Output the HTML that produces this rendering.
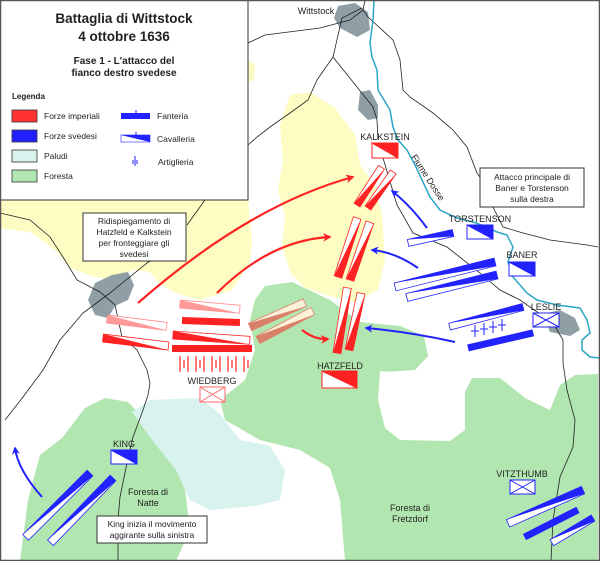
<!DOCTYPE html>
<html><head><meta charset="utf-8"><style>
html,body{margin:0;padding:0;background:#fff}
svg{display:block}
text{font-family:"Liberation Sans",sans-serif;fill:#222}
</style></head><body>
<svg width="600" height="561" viewBox="0 0 600 561" xmlns="http://www.w3.org/2000/svg">
<defs>
<marker id="ar" viewBox="0 0 10 10" refX="8" refY="5" markerWidth="4" markerHeight="4" orient="auto"><path d="M0,0L10,5L0,10L3,5z" fill="#f22"/></marker>
<marker id="ab" viewBox="0 0 10 10" refX="8" refY="5" markerWidth="4" markerHeight="4" orient="auto"><path d="M0,0L10,5L0,10L3,5z" fill="#22f"/></marker>
</defs>
<rect width="600" height="561" fill="#fff"/>
<!-- yellow -->
<path d="M0,200 L248,200 L252,240 L250,262 L232,290 L200,300 L178,294 L160,284 L150,272 L132,270 L112,280 L92,276 L70,268 L55,250 L30,232 L0,228 Z" fill="#fdfcc2"/>
<path d="M248,60 L255,65 L254,80 L248,82 Z" fill="#fdfcc2"/>
<path d="M290,95 L310,92 L335,108 L355,135 L360,165 L375,185 L382,215 L385,260 L378,290 L355,302 L330,296 L305,288 L290,272 L282,245 L285,215 L278,190 L283,160 L280,125 Z" fill="#fdfcc2"/>
<!-- green -->
<path d="M255,300 L265,286 L292,282 L330,300 L360,322 L400,326 L424,336 L428,356 L415,370 L385,372 L470,378 L500,378 L525,398 L550,410 L560,385 L575,375 L598,374 L598,561 L345,561 L340,500 L330,468 L300,450 L260,440 L225,420 L220,400 L245,380 L255,350 L250,320 Z" fill="#b2e6b0"/>
<path d="M380,371 L378,400 L385,428 L400,440 L450,441 L465,430 L465,392 L472,378 Z" fill="#fff"/>
<path d="M20,561 L28,500 L40,455 L62,438 L85,408 L105,398 L128,402 L150,425 L170,455 L185,490 L190,530 L176,561 Z" fill="#b2e6b0"/>
<!-- marsh -->
<path d="M132,412 L150,400 L200,398 L220,414 L240,440 L270,446 L285,470 L280,500 L255,506 L210,510 L190,500 L176,470 L152,440 Z" fill="#d8f2ee"/>
<!-- swamps -->
<path d="M338,6 L355,3 L368,12 L370,30 L357,37 L340,28 L334,18 Z" fill="#909fa6"/>
<path d="M360,92 L370,90 L378,105 L378,118 L368,120 L358,110 Z" fill="#909fa6"/>
<path d="M95,283 L112,275 L128,272 L134,285 L128,300 L115,306 L108,318 L95,315 L88,300 Z" fill="#909fa6"/>
<path d="M543,314 L560,310 L575,318 L580,330 L570,336 L550,332 Z" fill="#909fa6"/>
<!-- roads -->
<g fill="none" stroke="#222" stroke-width="0.8">
<path d="M248,43 L265,35 L320,28 L350,20 L363,10 L365,0"/>
<path d="M362,8 L342,18 L333,57 L317,80 L308,100 L290,113 L270,127 L257,137 L248,145"/>
<path d="M205,200 L187,225"/>
<path d="M333,57 L357,87 L373,107 L377,120 L378,140 M383,158 L397,205 L413,233 L447,247 L480,273 L500,290 L520,300 L553,323 L563,340 L563,363 L567,390 L575,420 L573,447 L560,477 L553,520 L551,561"/>
<path d="M363,10 L368,17 L393,40 L400,60 L403,90 L410,97 L433,113 L453,130 L467,147 L477,173 L487,187 L493,207 L503,227 L523,233 L550,240 L587,245 L598,247"/>
<path d="M0,213 L30,220 L50,237 L63,257 L77,280 L100,292 L115,305 L122,337 L137,350 L147,370 L150,383 L148,395 L143,410 L133,437 L127,463 L120,497 L118,520 L118,561"/>
<path d="M83,313 L110,293 L147,263 L150,261"/>
<path d="M83,313 L60,340 L43,370 L23,397 L5,420"/>
</g>
<!-- river -->
<path d="M374,0 L373,20 L370,43 L372,57 L377,70 L378,90 L390,110 L393,127 L398,140 L407,150 L415,165 L430,197 L440,210 L457,218 L473,222 L487,227 L497,232 L507,235 L513,247 L508,262 L513,277 L527,293 L537,300 L557,305 L580,308 L587,320 L590,333 L582,340 L582,350 L590,357 L600,358" fill="none" stroke="#2aa6c6" stroke-width="1.5"/>
<text x="0" y="0" font-size="9" transform="translate(411,157) rotate(57)">Fiume Dosse</text>
<text x="316" y="14" font-size="9" text-anchor="middle">Wittstock</text>

<!-- red arrows -->
<g fill="none" stroke="#f22" stroke-width="2.2">
<path d="M138,303 Q250,205 353,177" marker-end="url(#ar)"/>
<path d="M217,293 Q270,240 330,237" marker-end="url(#ar)"/>
<path d="M302,330 Q315,340 328,339" marker-end="url(#ar)"/>
</g>
<!-- blue arrows -->
<g fill="none" stroke="#22f" stroke-width="2">
<path d="M427,228 Q410,205 392,191" marker-end="url(#ab)"/>
<path d="M418,268 Q395,252 372,250" marker-end="url(#ab)"/>
<path d="M455,342 Q410,332 366,328" marker-end="url(#ab)"/>
<path d="M42,497 Q18,470 15,448" marker-end="url(#ab)"/>
</g>

<!-- red cavalry -->
<g stroke="#f22" stroke-width="0.8">
<g transform="translate(357,205) rotate(-57)"><rect x="0" y="-3.5" width="45" height="7" fill="#fff"/><polygon points="0,-3.5 0,3.5 45,3.5" fill="#f22" stroke="none"/></g>
<g transform="translate(368,208) rotate(-55)"><rect x="0" y="-3.5" width="44" height="7" fill="#fff"/><polygon points="0,-3.5 0,3.5 44,3.5" fill="#f22" stroke="none"/></g>
<g transform="translate(338,277) rotate(-72)"><rect x="0" y="-4" width="62" height="8" fill="#fff"/><polygon points="0,-4 0,4 62,4" fill="#f22" stroke="none"/></g>
<g transform="translate(350,280) rotate(-71)"><rect x="0" y="-4" width="61" height="8" fill="#fff"/><polygon points="0,-4 0,4 61,4" fill="#f22" stroke="none"/></g>
<g transform="translate(337,353) rotate(-81)"><rect x="0" y="-4" width="66" height="8" fill="#fff"/><polygon points="0,-4 0,4 66,4" fill="#f22" stroke="none"/></g>
<g transform="translate(349,350) rotate(-78)"><rect x="0" y="-4" width="58" height="8" fill="#fff"/><polygon points="0,-4 0,4 58,4" fill="#f22" stroke="none"/></g>
</g>
<g stroke="#e0806a" stroke-width="0.8">
<g transform="translate(250,327) rotate(-24)"><rect x="0" y="-4" width="60" height="8" fill="#fbf0d8"/><polygon points="0,-4 0,4 60,4" fill="#d9806a" stroke="none"/></g>
<g transform="translate(258,340) rotate(-28)"><rect x="0" y="-4" width="62" height="8" fill="#fbf0d8"/><polygon points="0,-4 0,4 62,4" fill="#d9806a" stroke="none"/></g>
</g>
<g stroke="#f88" stroke-width="0.8">
<g transform="translate(180,304) rotate(5)"><rect x="0" y="-4" width="60" height="8" fill="#fff"/><polygon points="0,-4 0,4 60,4" fill="#f99" stroke="none"/></g>
<g transform="translate(107,319) rotate(7)"><rect x="0" y="-4" width="60" height="8" fill="#fff"/><polygon points="0,-4 0,4 60,4" fill="#f99" stroke="none"/></g>
</g>
<g stroke="#f22" stroke-width="0.8">
<g transform="translate(173,335) rotate(4)"><rect x="0" y="-4" width="77" height="8" fill="#fff"/><polygon points="0,-4 0,4 77,4" fill="#f22" stroke="none"/></g>
<g transform="translate(103,338) rotate(7)"><rect x="0" y="-4" width="66" height="8" fill="#fff"/><polygon points="0,-4 0,4 66,4" fill="#f22" stroke="none"/></g>
</g>
<g fill="#f22">
<rect x="182" y="318" width="58" height="7" transform="rotate(2 211 321)"/>
<rect x="172" y="345" width="80" height="7"/>
<g stroke="#f22" stroke-width="1.2">
<path d="M180,356v16M184,360v8M188,356v16M196,356v16M200,360v8M204,356v16M212,356v16M216,360v8M220,356v16M228,356v16M232,360v8M236,356v16M244,356v16M248,360v8"/>
</g>
</g>
<!-- red flags -->
<g stroke="#f22" stroke-width="1">
<rect x="372" y="143" width="26" height="15" fill="#fff"/><polygon points="372,143 398,143 398,158" fill="#f22"/>
<rect x="322" y="371" width="35" height="17" fill="#fff"/><polygon points="322,371 357,371 357,388" fill="#f22"/>
<g stroke="#f66"><rect x="200" y="387" width="25" height="15" fill="#fff"/><path d="M200,387L225,402M225,387L200,402"/></g>
</g>
<text x="385" y="140" font-size="9" text-anchor="middle">KALKSTEIN</text>
<text x="340" y="369" font-size="9" text-anchor="middle">HATZFELD</text>
<text x="212" y="384" font-size="9" text-anchor="middle">WIEDBERG</text>

<!-- blue units -->
<g stroke="#22f" stroke-width="0.8">
<g transform="translate(453,233) rotate(167.5)"><rect x="0" y="-3.5" width="46" height="7" fill="#fff"/><polygon points="0,-3.5 0,3.5 46,3.5" fill="#22f" stroke="none"/></g>
<g transform="translate(495,262) rotate(166)"><rect x="0" y="-4" width="103" height="8" fill="#fff"/><polygon points="0,-4 0,4 103,4" fill="#22f" stroke="none"/></g>
<g transform="translate(497,275) rotate(166)"><rect x="0" y="-4" width="93" height="8" fill="#fff"/><polygon points="0,-4 0,4 93,4" fill="#22f" stroke="none"/></g>
<g transform="translate(523,307) rotate(165)"><rect x="0" y="-3.5" width="76" height="7" fill="#fff"/><polygon points="0,-3.5 0,3.5 76,3.5" fill="#22f" stroke="none"/></g>
<g transform="translate(90,473) rotate(135)"><rect x="0" y="-4" width="91" height="8" fill="#fff"/><polygon points="0,-4 0,4 91,4" fill="#22f" stroke="none"/></g>
<g transform="translate(113,478) rotate(134)"><rect x="0" y="-4" width="90" height="8" fill="#fff"/><polygon points="0,-4 0,4 90,4" fill="#22f" stroke="none"/></g>
<g transform="translate(583,490) rotate(156)"><rect x="0" y="-4" width="82" height="8" fill="#fff"/><polygon points="0,-4 0,4 82,4" fill="#22f" stroke="none"/></g>
<g transform="translate(593,518) rotate(149)"><rect x="0" y="-3.5" width="48" height="7" fill="#fff"/><polygon points="0,-3.5 0,3.5 48,3.5" fill="#22f" stroke="none"/></g>
</g>
<g fill="#22f">
<rect x="467" y="337" width="67" height="7" transform="rotate(-13 500 340)"/>
<rect x="521" y="520" width="60" height="7" transform="rotate(-27 551 523)"/>
<path d="M475,325v12M471,331h8M484,323v12M480,329h8M493,321v12M489,327h8M502,319v12M498,325h8" stroke="#22f" stroke-width="1"/>
</g>
<g stroke="#22f" stroke-width="1">
<rect x="467" y="225" width="26" height="14" fill="#fff"/><polygon points="467,225 493,225 493,239" fill="#22f"/>
<rect x="509" y="262" width="26" height="14" fill="#fff"/><polygon points="509,262 535,262 535,276" fill="#22f"/>
<rect x="111" y="450" width="26" height="14" fill="#fff"/><polygon points="111,450 137,450 137,464" fill="#22f"/>
<rect x="533" y="313" width="26" height="14" fill="#fff"/><path d="M533,313L559,327M559,313L533,327"/>
<rect x="510" y="480" width="25" height="14" fill="#fff"/><path d="M510,480L535,494M535,480L510,494"/>
</g>
<text x="480" y="222" font-size="9" text-anchor="middle">TORSTENSON</text>
<text x="522" y="258" font-size="9" text-anchor="middle">BANER</text>
<text x="546" y="310" font-size="9" text-anchor="middle">LESLIE</text>
<text x="124" y="447" font-size="9" text-anchor="middle">KING</text>
<text x="522" y="477" font-size="9" text-anchor="middle">VITZTHUMB</text>

<text x="148" y="495" font-size="9" text-anchor="middle">Foresta di</text>
<text x="148" y="506" font-size="9" text-anchor="middle">Natte</text>
<text x="410" y="511" font-size="9" text-anchor="middle">Foresta di</text>
<text x="410" y="522" font-size="9" text-anchor="middle">Fretzdorf</text>

<!-- text boxes -->
<g fill="#fff" stroke="#333" stroke-width="1">
<rect x="83" y="213" width="103" height="48"/>
<rect x="480" y="168" width="104" height="39"/>
<rect x="97" y="516" width="110" height="27"/>
</g>
<g font-size="8.5" text-anchor="middle">
<text x="134" y="224">Ridispiegamento di</text>
<text x="134" y="235">Hatzfeld e Kalkstein</text>
<text x="134" y="246">per fronteggiare gli</text>
<text x="134" y="257">svedesi</text>
<text x="532" y="180">Attacco principale di</text>
<text x="532" y="191">Baner e Torstenson</text>
<text x="532" y="202">sulla destra</text>
<text x="152" y="527">King inizia il movimento</text>
<text x="152" y="538">aggirante sulla sinistra</text>
</g>

<!-- legend -->
<rect x="0" y="0" width="248" height="200" fill="#fff" stroke="#333" stroke-width="1"/>
<text x="124" y="23" font-size="13.5" font-weight="bold" text-anchor="middle">Battaglia di Wittstock</text>
<text x="124" y="41" font-size="13.5" font-weight="bold" text-anchor="middle">4 ottobre 1636</text>
<text x="124" y="64" font-size="10" font-weight="bold" text-anchor="middle">Fase 1 - L'attacco del</text>
<text x="124" y="76" font-size="10" font-weight="bold" text-anchor="middle">fianco destro svedese</text>
<text x="12" y="99" font-size="8" font-weight="bold">Legenda</text>
<g stroke="#333" stroke-width="0.8">
<rect x="12" y="110" width="25" height="12" fill="#f33"/>
<rect x="12" y="130" width="25" height="12" fill="#22f"/>
<rect x="12" y="150" width="25" height="12" fill="#d8f2ee"/>
<rect x="12" y="170" width="25" height="12" fill="#b2e6b0"/>
</g>
<g font-size="8.5" fill="#333">
<text x="44" y="119">Forze imperiali</text>
<text x="44" y="139">Forze svedesi</text>
<text x="44" y="159">Paludi</text>
<text x="44" y="179">Foresta</text>
<text x="157" y="119">Fanteria</text>
<text x="157" y="142">Cavalleria</text>
<text x="158" y="165">Artiglieria</text>
</g>
<rect x="121" y="113" width="29" height="6" fill="#22f"/><path d="M136,110v3" stroke="#22f"/>
<rect x="121" y="135" width="29" height="7" fill="#fff" stroke="#22f" stroke-width="0.6"/><polygon points="121,135 150,135 150,142" fill="#22f"/><path d="M136,132v3" stroke="#22f"/>
<path d="M135,156v10M133,160v4M137,160v4" stroke="#22f" stroke-width="1"/>

<rect x="0.5" y="0.5" width="599" height="560" fill="none" stroke="#555" stroke-width="1.5"/>
</svg>
</body></html>
